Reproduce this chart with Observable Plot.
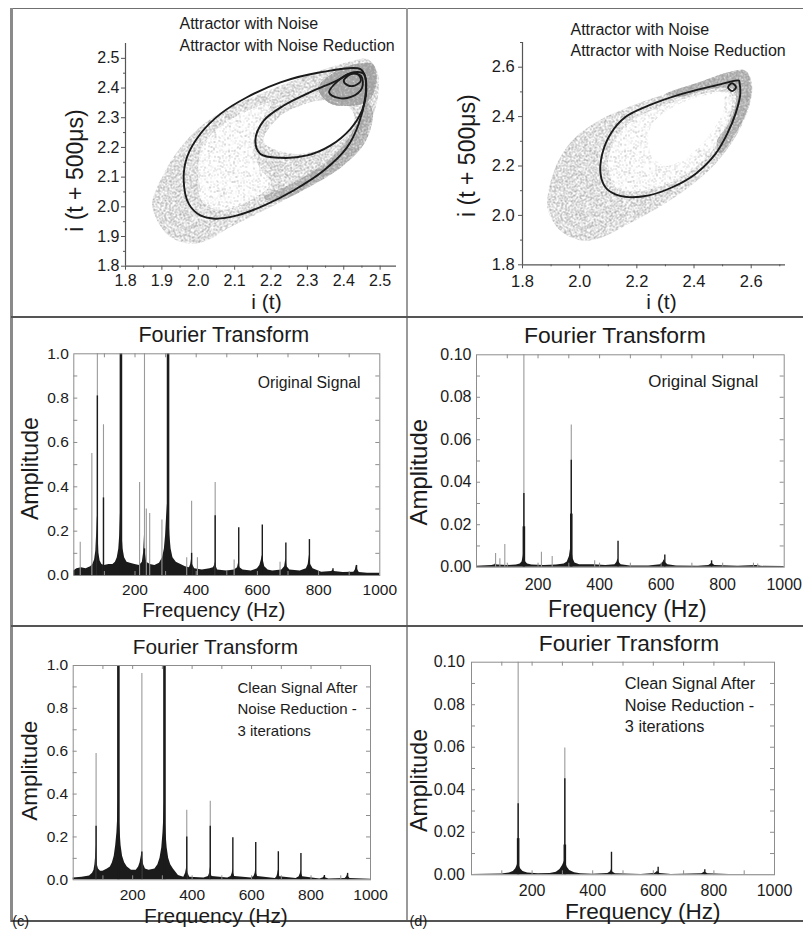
<!DOCTYPE html>
<html>
<head>
<meta charset="utf-8">
<script src="https://cdn.jsdelivr.net/npm/d3@7"></script>
<script src="https://cdn.jsdelivr.net/npm/@observablehq/plot@0.6"></script>
<style>
  html, body { margin: 0; padding: 0; background: #fff; }
  #fig { position: relative; width: 803px; height: 931px; overflow: hidden; background: #fff; }
  .cell { position: absolute; }
  .cell svg { overflow: visible; display: block; }
  .line { position: absolute; }
</style>
</head>
<body>
<!-- stipple fills for the scattered noisy samples -->
<svg width="0" height="0" style="position:absolute;left:0;top:0" aria-hidden="true">
  <defs>
    <filter id="grainDense" x="0" y="0" width="1" height="1" color-interpolation-filters="sRGB">
      <feTurbulence type="fractalNoise" baseFrequency="0.8" numOctaves="2" seed="4"/>
      <feColorMatrix type="matrix" values="0 0 0 0 0.63  0 0 0 0 0.63  0 0 0 0 0.63  7 0 0 0 -2.6"/>
    </filter>
    <filter id="grainMedium" x="0" y="0" width="1" height="1" color-interpolation-filters="sRGB">
      <feTurbulence type="fractalNoise" baseFrequency="0.8" numOctaves="2" seed="9"/>
      <feColorMatrix type="matrix" values="0 0 0 0 0.66  0 0 0 0 0.66  0 0 0 0 0.66  7 0 0 0 -3.3"/>
    </filter>
    <filter id="grainSparse" x="0" y="0" width="1" height="1" color-interpolation-filters="sRGB">
      <feTurbulence type="fractalNoise" baseFrequency="0.8" numOctaves="2" seed="13"/>
      <feColorMatrix type="matrix" values="0 0 0 0 0.68  0 0 0 0 0.68  0 0 0 0 0.68  7 0 0 0 -4.1"/>
    </filter>
    <pattern id="stippleDense" patternUnits="userSpaceOnUse" width="200" height="200">
      <rect width="200" height="200" fill="#000" filter="url(#grainDense)"/>
    </pattern>
    <pattern id="stippleMedium" patternUnits="userSpaceOnUse" width="200" height="200">
      <rect width="200" height="200" fill="#000" filter="url(#grainMedium)"/>
    </pattern>
    <pattern id="stippleSparse" patternUnits="userSpaceOnUse" width="200" height="200">
      <rect width="200" height="200" fill="#000" filter="url(#grainSparse)"/>
    </pattern>
  </defs>
</svg>
<div id="fig">
  <div class="line" style="left:9.5px;top:7.5px;width:793.5px;height:1.5px;background:#707070"></div>
  <div class="line" style="left:9.5px;top:7.5px;width:3px;height:914px;background:#8a8a8a"></div>
  <div class="line" style="left:405.5px;top:7.5px;width:2.5px;height:913px;background:#9a9a9a"></div>
  <div class="line" style="left:11px;top:316px;width:792px;height:2px;background:#555"></div>
  <div class="line" style="left:11px;top:624.5px;width:792px;height:2px;background:#555"></div>
  <div class="line" style="left:11px;top:919.5px;width:792px;height:2px;background:#555"></div>
</div>
<script>
// ---------- delay-embedded attractors: i(t) vs i(t + 500 µs) ----------
const legendLabels = ["Attractor with Noise", "Attractor with Noise Reduction"];
const xTitleAttractor = "i (t)";
const yTitleAttractor = "i (t + 500\u03bcs)";

// left column (period-2 regime)
const tickValuesL = [1.8, 1.9, 2.0, 2.1, 2.2, 2.3, 2.4, 2.5];
const minorValuesL = [1.85, 1.95, 2.05, 2.15, 2.25, 2.35, 2.45];
const noiseCloudL = [[1.873,2.010],[1.905,2.111],[1.951,2.200],[2.015,2.279],[2.088,2.335],[2.171,2.380],[2.262,2.425],[2.336,2.459],[2.409,2.487],[2.464,2.498],[2.491,2.459],[2.496,2.391],[2.482,2.313],[2.446,2.212],[2.382,2.128],[2.299,2.066],[2.217,2.010],[2.143,1.965],[2.079,1.926],[2.034,1.892],[1.979,1.875],[1.924,1.898],[1.887,1.954]];
const sparseCoreL = [[2.00,2.10],[2.01,2.20],[2.06,2.27],[2.13,2.32],[2.20,2.35],[2.17,2.28],[2.15,2.20],[2.17,2.13],[2.20,2.08],[2.14,2.02],[2.06,1.99],[2.01,2.02]];
const emptyCoreL = [[2.18,2.22],[2.22,2.30],[2.28,2.34],[2.35,2.36],[2.41,2.34],[2.43,2.30],[2.40,2.23],[2.33,2.19],[2.25,2.18]];
const denseBandL = [[2.18,2.03],[2.26,2.08],[2.34,2.14],[2.40,2.21],[2.44,2.29],[2.46,2.36],[2.48,2.32],[2.46,2.22],[2.40,2.14],[2.31,2.07],[2.22,2.02]];
const denseTipL = [[2.33,2.40],[2.37,2.45],[2.43,2.48],[2.48,2.48],[2.49,2.42],[2.47,2.36],[2.42,2.34],[2.36,2.35]];
const outerOrbitL = [[2.446,2.464],[2.336,2.453],[2.226,2.419],[2.134,2.369],[2.061,2.313],[2.006,2.246],[1.969,2.167],[1.960,2.088],[1.974,2.010],[2.006,1.971],[2.047,1.960],[2.107,1.971],[2.180,2.004],[2.262,2.055],[2.345,2.122],[2.409,2.200],[2.441,2.279],[2.459,2.369],[2.459,2.436]];
const innerOrbitL = [[2.427,2.453],[2.381,2.425],[2.308,2.386],[2.235,2.341],[2.180,2.290],[2.157,2.223],[2.171,2.178],[2.226,2.165],[2.299,2.173],[2.363,2.206],[2.418,2.262],[2.450,2.324],[2.462,2.391],[2.455,2.448]];
const smallOrbitL = [[2.360,2.385],[2.385,2.425],[2.420,2.450],[2.448,2.440],[2.450,2.400],[2.420,2.370],[2.385,2.367]];
const tinyOrbitL = [[2.400,2.425],[2.420,2.447],[2.440,2.445],[2.447,2.425],[2.430,2.408],[2.410,2.410]];

// right column (period-1 regime)
const tickValuesR = [1.8, 2.0, 2.2, 2.4, 2.6];
const minorValuesR = [1.9, 2.1, 2.3, 2.5, 2.7];
const noiseCloudR = [[1.886,2.047],[1.915,2.195],[1.974,2.303],[2.067,2.384],[2.184,2.445],[2.300,2.492],[2.417,2.539],[2.522,2.580],[2.580,2.587],[2.603,2.533],[2.592,2.438],[2.545,2.317],[2.475,2.209],[2.382,2.114],[2.277,2.033],[2.172,1.966],[2.079,1.912],[2.009,1.898],[1.939,1.932],[1.898,1.993]];
const sparseCoreR = [[2.10,2.20],[2.12,2.30],[2.18,2.38],[2.26,2.43],[2.36,2.47],[2.47,2.50],[2.53,2.49],[2.50,2.33],[2.43,2.22],[2.33,2.14],[2.22,2.10],[2.13,2.11]];
const emptyCoreR = [[2.26,2.38],[2.33,2.44],[2.42,2.48],[2.50,2.49],[2.50,2.42],[2.45,2.32],[2.38,2.24],[2.30,2.20],[2.25,2.25],[2.24,2.32]];
const denseBandR = [[2.30,2.49],[2.42,2.54],[2.52,2.58],[2.58,2.586],[2.60,2.53],[2.59,2.44],[2.55,2.34],[2.49,2.25],[2.48,2.30],[2.52,2.37],[2.545,2.45],[2.54,2.51],[2.45,2.51],[2.35,2.48]];
const orbitR = [[2.557,2.546],[2.475,2.526],[2.358,2.492],[2.242,2.445],[2.160,2.398],[2.108,2.330],[2.079,2.249],[2.073,2.168],[2.090,2.114],[2.125,2.085],[2.172,2.074],[2.242,2.081],[2.324,2.114],[2.405,2.168],[2.475,2.249],[2.516,2.330],[2.545,2.411],[2.562,2.492],[2.559,2.539]];
const cuspR = [[2.519,2.519],[2.533,2.535],[2.547,2.519],[2.533,2.503]];

// ---------- Fourier spectra ----------
const spectrumTitle = "Fourier Transform";
const freqTitle = "Frequency (Hz)";
const ampTitle = "Amplitude";
const noteOriginal = "Original Signal";
const noteClean = ["Clean Signal After", "Noise Reduction -", "3 iterations"];
const freqLabels = [200, 400, 600, 800, 1000];
const freqTicks = [100, 200, 300, 400, 500, 600, 700, 800, 900];
const ampLabelsFull = [0, 0.2, 0.4, 0.6, 0.8, 1.0];
const ampTicksFull = [0.1, 0.2, 0.3, 0.4, 0.5, 0.6, 0.7, 0.8, 0.9];
const ampLabelsSmall = [0, 0.02, 0.04, 0.06, 0.08, 0.10];
const ampTicksSmall = [0.01, 0.02, 0.03, 0.04, 0.05, 0.06, 0.07, 0.08, 0.09];

// original signal, left column: [frequency Hz, amplitude]
const floorOrigL = [[0,.02],[10,.03],[25,.035],[40,.03],[55,.04],[62,.05],[68,.07],[72,.11],[75,.2],[77,.27],[79,.2],[82,.1],[86,.065],[92,.05],[100,.045],[115,.05],[128,.05],[136,.06],[142,.08],[147,.12],[150,.18],[152,.26],[154,.33],[156,.26],[158,.18],[161,.12],[166,.08],[174,.06],[185,.055],[200,.05],[215,.045],[224,.06],[228,.1],[231,.18],[234,.1],[238,.06],[250,.05],[265,.045],[280,.055],[290,.08],[296,.12],[300,.18],[303,.26],[306,.32],[308,.33],[311,.26],[314,.18],[318,.12],[324,.08],[335,.06],[350,.05],[365,.04],[378,.035],[382,.05],[385,.075],[388,.05],[395,.03],[420,.025],[445,.03],[456,.035],[460,.045],[462,.06],[464,.045],[470,.025],[500,.02],[525,.025],[535,.035],[539,.06],[543,.035],[553,.025],[580,.02],[600,.03],[608,.045],[613,.07],[616,.09],[619,.07],[624,.04],[635,.025],[650,.02],[680,.025],[689,.04],[693,.075],[697,.04],[706,.025],[740,.02],[760,.03],[766,.05],[770,.09],[774,.05],[782,.03],[810,.015],[843,.018],[847,.025],[851,.018],[880,.013],[915,.015],[920,.025],[924,.047],[928,.025],[933,.013],[960,.01],[1000,.01]];
const thinOrigL = [[21,.15],[59,.55],[77,1.0],[97,.68],[215,.42],[231,1.0],[237,.3],[248,.28],[288,.25],[369,.08],[385,.335],[404,.08],[462,.42],[524,.07],[674,.06]];
const peakOrigL = [[77,.81],[97,.35],[231,.12],[385,.1],[462,.27],[539,.215],[616,.228],[693,.147],[770,.162],[847,.03],[924,.045]];
const boldOrigL = [[154,1.0],[308,1.0]];

// original signal, right column
const floorOrigR = [[0,.0005],[50,.0008],[60,.0012],[62,.0018],[64,.0012],[70,.001],[100,.0008],[130,.001],[142,.0015],[148,.0025],[152,.005],[154,.008],[156,.005],[160,.0025],[166,.0015],[180,.001],[220,.0008],[260,.001],[285,.0015],[295,.0025],[302,.005],[306,.009],[308,.011],[310,.008],[314,.004],[320,.002],[335,.0012],[380,.0012],[420,.0008],[450,.0012],[456,.0022],[460,.004],[464,.0022],[470,.0012],[500,.0006],[560,.0006],[598,.0012],[606,.0022],[610,.0035],[614,.0022],[622,.0012],[650,.0006],[720,.0005],[755,.0008],[762,.0015],[765,.002],[768,.0015],[775,.0008],[850,.0004],[910,.0008],[925,.0004],[1000,.0003]];
const thinOrigR = [[62,.0065],[76,.004],[92,.0107],[154,.1],[211,.007],[246,.005],[308,.0669],[384,.003],[914,.0015]];
const peakOrigR = [[154,.0347],[308,.0504],[460,.0122],[612,.0057],[764,.003]];
const boldOrigR = [[154,.019],[308,.025]];

// clean signal after noise reduction, left column
const floorCleanL = [[0,.008],[30,.012],[55,.018],[65,.03],[70,.045],[73,.07],[75,.1],[77,.16],[79,.1],[81,.07],[85,.05],[92,.04],[100,.04],[115,.05],[125,.06],[132,.08],[138,.11],[143,.16],[147,.22],[150,.3],[152,.36],[154,.3],[157,.24],[161,.16],[166,.11],[173,.08],[182,.06],[196,.045],[212,.045],[220,.06],[225,.08],[229,.11],[231,.13],[233,.1],[237,.07],[243,.05],[255,.045],[275,.05],[285,.07],[292,.1],[298,.15],[302,.22],[305,.3],[307,.36],[309,.3],[312,.22],[316,.15],[321,.1],[328,.07],[337,.05],[354,.02],[372,.012],[378,.03],[382,.06],[386,.03],[392,.012],[440,.008],[455,.015],[459,.03],[461,.06],[463,.03],[467,.015],[520,.008],[531,.015],[535,.03],[537,.05],[539,.03],[543,.015],[600,.008],[608,.015],[612,.03],[614,.05],[616,.03],[620,.015],[680,.006],[685,.014],[688,.028],[690,.045],[692,.028],[695,.014],[750,.006],[760,.014],[764,.028],[766,.045],[768,.028],[772,.014],[830,.004],[842,.01],[845,.015],[848,.01],[860,.004],[915,.006],[920,.014],[923,.025],[926,.014],[931,.006],[1000,.003]];
const thinCleanL = [[77,.589],[231,.963],[382,.325],[461,.367]];
const peakCleanL = [[77,.25],[231,.13],[382,.2],[461,.25],[537,.196],[614,.174],[690,.131],[766,.123],[845,.02],[923,.03]];
const boldCleanL = [[152,1.0],[307,1.0]];

// clean signal after noise reduction, right column
const floorCleanR = [[0,.0002],[100,.0004],[125,.0008],[138,.0015],[146,.0028],[151,.0045],[154,.007],[157,.0045],[162,.0028],[170,.0015],[185,.0008],[220,.0005],[260,.0006],[280,.0012],[292,.0025],[300,.0042],[305,.0058],[308,.007],[311,.0055],[316,.0035],[324,.002],[340,.001],[360,.0005],[400,.0003],[450,.0006],[457,.0012],[460,.0018],[462,.0025],[464,.0018],[467,.0012],[475,.0005],[560,.0002],[605,.0006],[611,.0012],[614,.0018],[617,.0012],[622,.0006],[660,.0002],[760,.0005],[766,.001],[770,.0014],[774,.001],[780,.0005],[850,.0002],[1000,.0001]];
const thinCleanR = [[154,.1],[308,.0596]];
const peakCleanR = [[154,.0334],[308,.0452],[462,.0106],[616,.0036],[770,.0024]];
const boldCleanR = [[154,.017],[308,.014]];

// ---------- drawing ----------
const FONT = '"Liberation Sans", Arial, Helvetica, sans-serif';
const INK = "#1b1b1b";
const BOX = "#8d8d8d";
const fx = d => d[0], fy = d => d[1];

function place(node, left, top) {
  const cell = document.createElement("div");
  cell.className = "cell";
  cell.style.left = left + "px";
  cell.style.top = top + "px";
  cell.appendChild(node);
  document.getElementById("fig").appendChild(cell);
}

function attractor(o) {
  const closed = "catmull-rom-closed";
  const region = (pts, fill) => Plot.line(pts, {x: fx, y: fy, curve: closed, fill, stroke: "none"});
  return Plot.plot({
    width: o.width, height: o.height,
    marginLeft: o.ml, marginRight: o.mr, marginTop: o.mt, marginBottom: o.mb,
    style: {fontFamily: FONT, fontSize: o.tickFont + "px", color: INK, background: "transparent", overflow: "visible"},
    x: {domain: o.xDomain},
    y: {domain: o.yDomain},
    marks: [
      region(o.cloud, "url(#stippleMedium)"),
      ...o.shades.flatMap(([pts, fills]) => fills.map(f => region(pts, f))),
      ...o.orbits.map(pts => Plot.line(pts, {x: fx, y: fy, curve: closed, stroke: INK, strokeWidth: 1.9})),
      Plot.ruleX([o.xDomain[0]], {stroke: "#555", strokeWidth: 1.2}),
      Plot.ruleY([o.yDomain[0]], {stroke: "#555", strokeWidth: 1.2}),
      Plot.axisX(o.xTicks, {tickSize: 4, tickPadding: o.xPad, tickFormat: ".1f", label: null, stroke: "#555"}),
      Plot.axisX(o.xMinor, {tickSize: 2, tickFormat: () => "", label: null, stroke: "#555"}),
      Plot.axisY(o.yTicks, {tickSize: 4, tickPadding: o.yPad, tickFormat: ".1f", label: null, stroke: "#555"}),
      Plot.axisY(o.yMinor, {tickSize: 2, tickFormat: () => "", label: null, stroke: "#555"}),
      Plot.text([xTitleAttractor], {text: d => d, frameAnchor: "bottom", lineAnchor: "middle", dx: o.xTitleDx, dy: o.xTitleDy, fontSize: 21, fill: INK}),
      Plot.text([yTitleAttractor], {text: d => d, frameAnchor: "left", textAnchor: "middle", lineAnchor: "middle", rotate: -90, dx: o.yTitleDx, dy: o.yTitleDy, fontSize: 23, fill: INK}),
      Plot.text([legendLabels.join("\n")], {text: d => d, frameAnchor: "top-left", textAnchor: "start", lineAnchor: "middle", dx: o.legendDx, dy: o.legendDy, lineHeight: o.legendLine, fontSize: 16, fill: INK})
    ]
  });
}

function spectrum(o) {
  const iw = o.width - o.ml - o.mr, ih = o.height - o.mt - o.mb, T = 4;
  const small = o.yMax < 0.5;
  const marks = [
    Plot.areaY(o.floor, {x: fx, y: fy, fill: INK, curve: "linear"}),
    Plot.ruleX(o.thin, {x: fx, y1: 0, y2: fy, stroke: "#9a9a9a", strokeWidth: 1.1}),
    Plot.ruleX(o.peaks, {x: fx, y1: 0, y2: fy, stroke: INK, strokeWidth: 1.4}),
    Plot.ruleX(o.bold, {x: fx, y1: 0, y2: fy, stroke: INK, strokeWidth: 2.6}),
    Plot.frame({stroke: BOX}),
    Plot.tickX(freqTicks, {x: d => d, insetTop: ih - T, stroke: BOX}),
    Plot.tickX(freqTicks, {x: d => d, insetBottom: ih - T, stroke: BOX}),
    Plot.tickY(small ? ampTicksSmall : ampTicksFull, {y: d => d, insetRight: iw - T, stroke: BOX}),
    Plot.tickY(small ? ampTicksSmall : ampTicksFull, {y: d => d, insetLeft: iw - T, stroke: BOX}),
    Plot.axisX(freqLabels, {tickSize: 0, tickPadding: o.xPad, tickFormat: "d", label: null}),
    Plot.axisY(small ? ampLabelsSmall : ampLabelsFull, {tickSize: 0, tickPadding: o.yPad, tickFormat: small ? ".2f" : ".1f", label: null}),
    Plot.text([spectrumTitle], {text: d => d, frameAnchor: "top", lineAnchor: "middle", dx: o.titleDx, dy: o.titleDy, fontSize: o.titleFont, fill: INK}),
    Plot.text([ampTitle], {text: d => d, frameAnchor: "left", textAnchor: "middle", lineAnchor: "middle", rotate: -90, dx: o.ampDx, dy: o.ampDy, fontSize: o.ampFont, fill: INK}),
    Plot.text([freqTitle], {text: d => d, frameAnchor: "bottom", lineAnchor: "middle", dx: o.freqDx, dy: o.freqDy, fontSize: o.freqFont, fill: INK})
  ];
  if (o.noteEnd) {
    marks.push(Plot.text([o.note], {text: d => d, frameAnchor: "top-right", textAnchor: "end", lineAnchor: "middle", dx: o.noteDx, dy: o.noteDy, fontSize: o.noteFont, fill: INK}));
  } else {
    marks.push(Plot.text([o.note.join("\n")], {text: d => d, frameAnchor: "top-left", textAnchor: "start", lineAnchor: "middle", dx: o.noteDx, dy: o.noteDy, lineHeight: o.noteLine, fontSize: o.noteFont, fill: INK}));
  }
  if (o.tag) {
    marks.push(Plot.text([o.tag], {text: d => d, frameAnchor: "bottom-left", textAnchor: "start", lineAnchor: "middle", dx: o.tagDx, dy: o.tagDy, fontSize: 14.5, fill: INK}));
  }
  return Plot.plot({
    width: o.width, height: o.height,
    marginLeft: o.ml, marginRight: o.mr, marginTop: o.mt, marginBottom: o.mb,
    style: {fontFamily: FONT, fontSize: o.tickFont + "px", color: INK, background: "transparent", overflow: "visible"},
    x: {domain: [0, 1000]},
    y: {domain: [0, o.yMax]},
    marks
  });
}

// row 1: attractors
place(attractor({
  width: 390, height: 308, ml: 113, mr: 6, mt: 34, mb: 51.3,
  xDomain: [1.8, 2.545], yDomain: [1.8, 2.55],
  xTicks: tickValuesL, xMinor: minorValuesL, yTicks: tickValuesL, yMinor: minorValuesL,
  cloud: noiseCloudL,
  shades: [
    [sparseCoreL, ["#fff", "url(#stippleSparse)"]],
    [emptyCoreL, ["#fff"]],
    [denseBandL, ["url(#stippleDense)"]],
    [denseTipL, ["url(#stippleDense)", "url(#stippleDense)"]]
  ],
  orbits: [outerOrbitL, innerOrbitL, smallOrbitL, tinyOrbitL],
  tickFont: 16, xPad: 4.6, yPad: 2,
  xTitleDx: 5.5, xTitleDy: 36.3, yTitleDx: -50, yTitleDy: 15.7,
  legendDx: 54, legendDy: -11, legendLine: 1.375
}), 12, 9);

place(attractor({
  width: 395, height: 308, ml: 114, mr: 18, mt: 33, mb: 52.7,
  xDomain: [1.8, 2.72], yDomain: [1.8, 2.7],
  xTicks: tickValuesR, xMinor: minorValuesR, yTicks: tickValuesR, yMinor: minorValuesR,
  cloud: noiseCloudR,
  shades: [
    [sparseCoreR, ["#fff", "url(#stippleSparse)"]],
    [emptyCoreR, ["#fff"]],
    [denseBandR, ["url(#stippleDense)"]]
  ],
  orbits: [orbitR, cuspR],
  tickFont: 16.5, xPad: 6, yPad: 3.7,
  xTitleDx: 7.5, xTitleDy: 37.7, yTitleDx: -54.5, yTitleDy: 2,
  legendDx: 48, legendDy: -3.5, legendLine: 1.31
}), 408, 9);

// row 2: spectra of the original signals
place(spectrum({
  width: 394, height: 307, ml: 61.3, mr: 26.7, mt: 35.3, mb: 50, yMax: 1,
  floor: floorOrigL, thin: thinOrigL, peaks: peakOrigL, bold: boldOrigL,
  tickFont: 15.5, xPad: 8.5, yPad: 5,
  titleDx: -3, titleDy: -18.3, titleFont: 21.5,
  note: noteOriginal, noteEnd: true, noteDx: -19.3, noteDy: 28.7, noteFont: 15.8,
  ampDx: -43.3, ampDy: 3.9, ampFont: 23.2,
  freqDx: -13, freqDy: 35, freqFont: 20.8
}), 12, 318);

place(spectrum({
  width: 395, height: 307, ml: 68, mr: 19.3, mt: 36.3, mb: 58.3, yMax: 0.1,
  floor: floorOrigR, thin: thinOrigR, peaks: peakOrigR, bold: boldOrigR,
  tickFont: 16, xPad: 11, yPad: 5,
  titleDx: -15.5, titleDy: -19.3, titleFont: 22.9,
  note: noteOriginal, noteEnd: true, noteDx: -26, noteDy: 26.7, noteFont: 16.9,
  ampDx: -56.7, ampDy: 11.2, ampFont: 24,
  freqDx: -3, freqDy: 42.3, freqFont: 23
}), 408, 318);

// row 3: spectra after noise reduction
place(spectrum({
  width: 394, height: 304, ml: 60.7, mr: 36, mt: 38, mb: 51.7, yMax: 1,
  floor: floorCleanL, thin: thinCleanL, peaks: peakCleanL, bold: boldCleanL,
  tickFont: 15.5, xPad: 9, yPad: 5,
  titleDx: -6.4, titleDy: -18.3, titleFont: 20.8,
  note: noteClean, noteEnd: false, noteDx: 164.3, noteDy: 42, noteLine: 1.43, noteFont: 15,
  ampDx: -43.7, ampDy: -2, ampFont: 22.5,
  freqDx: -6, freqDy: 36.7, freqFont: 20.9,
  tag: "(c)", tagDx: -61, tagDy: 41.7
}), 12, 627);

place(spectrum({
  width: 395, height: 304, ml: 63, mr: 29, mt: 34.7, mb: 56.7, yMax: 0.1,
  floor: floorCleanR, thin: thinCleanR, peaks: peakCleanR, bold: boldCleanR,
  tickFont: 16, xPad: 10, yPad: 6.7,
  titleDx: 6, titleDy: -18.4, titleFont: 22.7,
  note: noteClean, noteEnd: false, noteDx: 153.3, noteDy: 41.6, noteLine: 1.33, noteFont: 16.3,
  ampDx: -51.7, ampDy: 12, ampFont: 23.2,
  freqDx: 19.8, freqDy: 36.7, freqFont: 22.6,
  tag: "(d)", tagDx: -62, tagDy: 46.7
}), 408, 627);
</script>
</body>
</html>
